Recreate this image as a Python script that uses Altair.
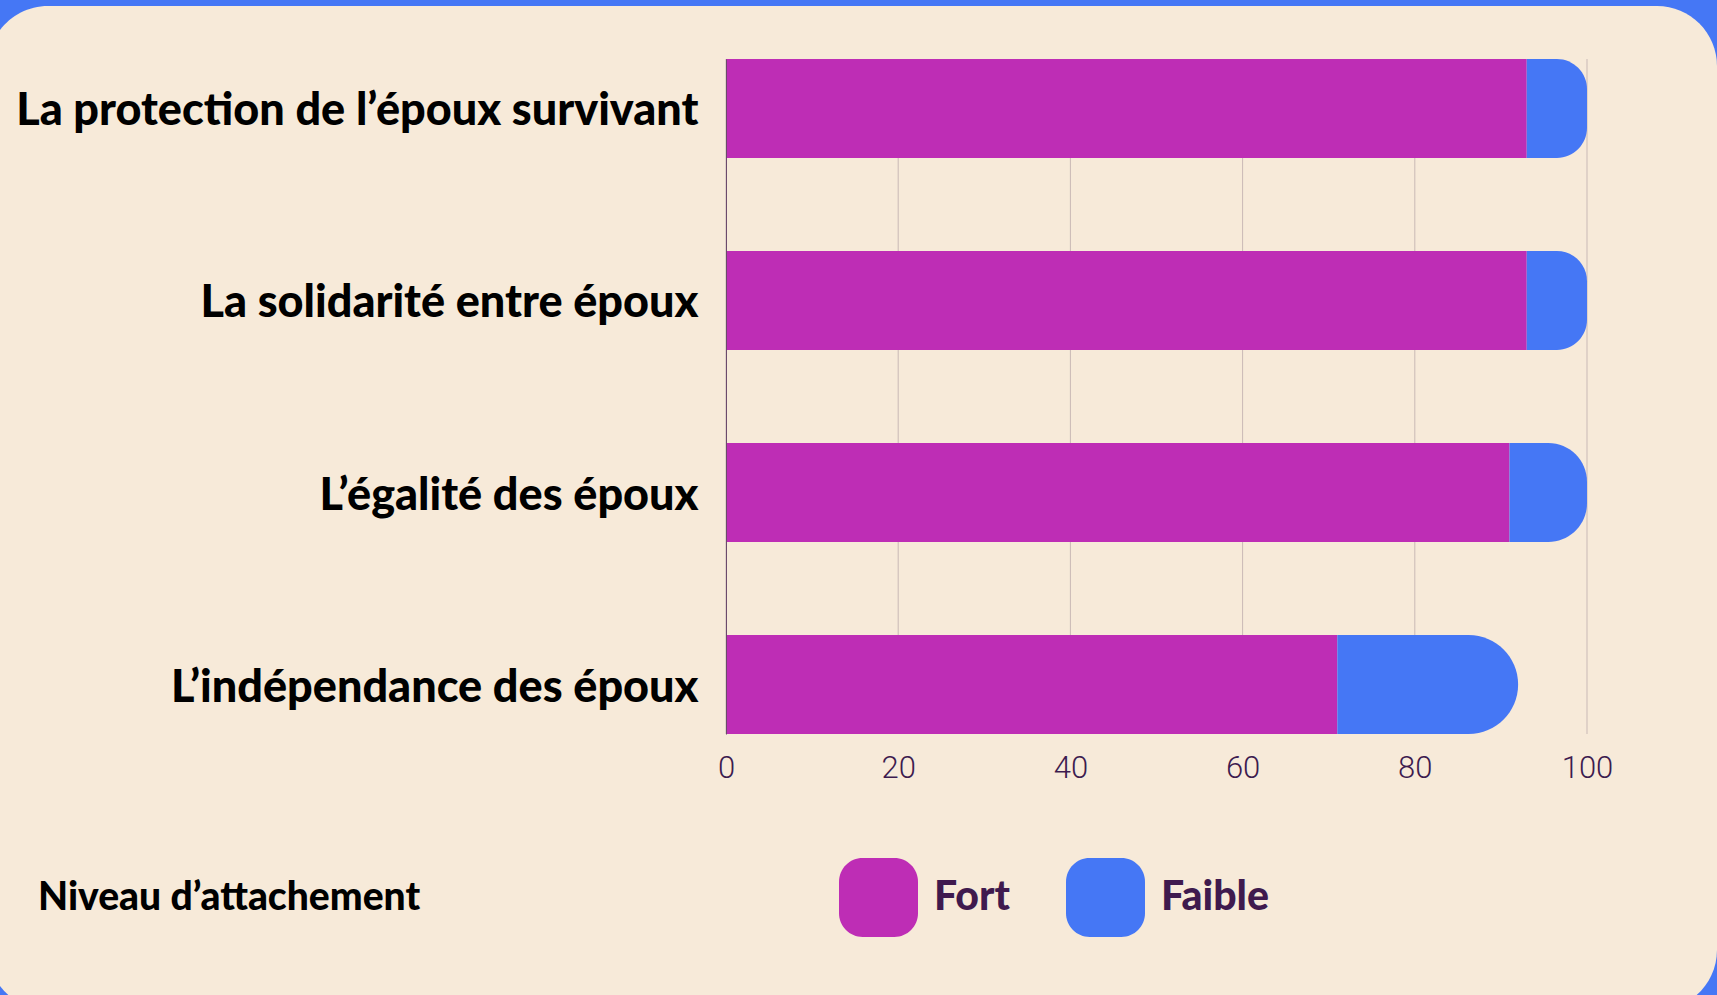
import altair as alt
import pandas as pd

categories = [
    "La protection de l’époux survivant",
    "La solidarité entre époux",
    "L’égalité des époux ",
    "L’indépendance des époux",
]
fort = [93, 93, 91, 71]
faible = [7, 7, 9, 21]
levels = ["Fort", "Faible"]
level_colors = ["#BE2DB5", "#4577F5"]
x_ticks = [0, 20, 40, 60, 80, 100]

CREAM = "#F7EAD9"
BLUE = "#4577F5"
GRID = "#C9B9B6"
TICK_COLOR = "#3D1B4F"
LEG_COLOR = "#3F1A4E"

W, H = 861, 675
PAD = {"left": 726, "right": 130, "top": 59, "bottom": 261}

df = pd.DataFrame({"cat": categories, "fort": fort, "faible": faible})
ticks_df = pd.DataFrame({"t": x_ticks})
bg_df = pd.DataFrame({"k": [0]})

xscale = alt.Scale(domain=[0, 100], nice=False, zero=True)
yscale = alt.Scale(paddingInner=0.485, paddingOuter=0)

yaxis = alt.Axis(
    title=None,
    labelFont="Lato",
    labelFontSize=45,
    labelFontWeight=900,
    labelColor="black",
    labelPadding=28,
    labelOffset=3,
    labelLimit=900,
    ticks=False,
    domain=True,
    domainColor="#6B4A6B",
    domainWidth=1,
    grid=False,
    zindex=1,
)
xaxis = alt.Axis(
    title=None,
    values=x_ticks,
    labelFont="Roboto",
    labelFontWeight=300,
    labelFontSize=31,
    labelColor=TICK_COLOR,
    labelPadding=19,
    labelFlush=False,
    ticks=False,
    domain=False,
    grid=False,
    zindex=1,
)

ROUNDED = ("M-0.4,-1 L0.4,-1 A0.6,0.6 0 0 1 1,-0.4 L1,0.4 A0.6,0.6 0 0 1 0.4,1 "
           "L-0.4,1 A0.6,0.6 0 0 1 -1,0.4 L-1,-0.4 A0.6,0.6 0 0 1 -0.4,-1 Z")

legend = alt.Legend(
    title="Niveau d’attachement",
    orient="none",
    legendX=-688,
    legendY=799,
    direction="horizontal",
    titleOrient="left",
    titlePadding=418,
    titleLimit=800,
    titleFont="Lato",
    titleFontSize=39,
    titleFontWeight=900,
    titleColor="black",
    titleBaseline="middle",
    labelFont="Lato",
    labelFontSize=41,
    labelFontWeight=900,
    labelColor=LEG_COLOR,
    labelOffset=16,
    columnPadding=56,
    symbolType=ROUNDED,
    symbolSize=6241,
    symbolStrokeWidth=0,
    symbolOpacity=1,
    labelLimit=400,
    zindex=1,
)
color = alt.Color(
    "level:N",
    scale=alt.Scale(domain=levels, range=level_colors),
    legend=legend,
)

bg = alt.Chart(bg_df).mark_rect(color=CREAM, cornerRadius=60).encode(
    x=alt.value(-738),
    x2=alt.value(W + 130),
    y=alt.value(-53),
    y2=alt.value(H + 261 + 15),
)

grid = alt.Chart(ticks_df).mark_rule(color=GRID, strokeWidth=1).encode(
    x=alt.X("t:Q", scale=xscale, axis=xaxis),
    y=alt.value(0),
    y2=alt.value(H),
)

bars_fort = (
    alt.Chart(df)
    .transform_calculate(level="'Fort'", zero="0")
    .mark_bar()
    .encode(
        x=alt.X("zero:Q", scale=xscale, axis=xaxis),
        x2=alt.X2("fort:Q"),
        y=alt.Y("cat:N", sort=categories, scale=yscale, axis=yaxis),
        color=color,
    )
)

bars_faible = (
    alt.Chart(df)
    .transform_calculate(level="'Faible'", total="datum.fort + datum.faible")
    .mark_bar(cornerRadiusTopRight=50, cornerRadiusBottomRight=50)
    .encode(
        x=alt.X("fort:Q", scale=xscale, axis=xaxis),
        x2=alt.X2("total:Q"),
        y=alt.Y("cat:N", sort=categories, scale=yscale, axis=yaxis),
        color=color,
    )
)

chart = (
    alt.layer(bg, grid, bars_fort, bars_faible)
    .properties(
        width=W,
        height=H,
        autosize=alt.AutoSizeParams(type="none"),
        padding=PAD,
        background=BLUE,
    )
    .configure_view(strokeWidth=0)
)

chart.save("out.html", embed_options={"renderer": "svg", "actions": False})
